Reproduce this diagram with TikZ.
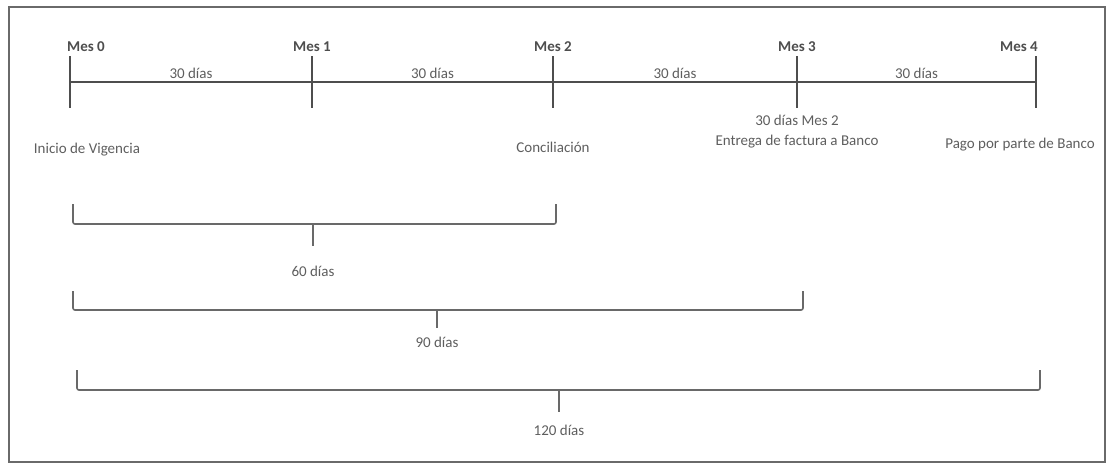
\documentclass[tikz,border=0pt]{standalone}
\usepackage{fontspec}
\setmainfont{Carlito}
\usetikzlibrary{positioning}
\definecolor{framegray}{HTML}{6A6A6A}
\definecolor{linegray}{HTML}{4E4E4E}
\definecolor{textgray}{HTML}{5E5E5E}

\begin{document}
\begin{tikzpicture}[x=1pt, y=-1pt,
    every node/.style={font=\fontsize{15}{18}\selectfont, text=textgray, inner sep=1pt},
    mes/.style={font=\fontsize{15}{18}\selectfont\bfseries, text=linegray},
    tline/.style={draw=linegray, line width=1.8pt},
    brace/.style={draw=linegray!85, line width=1.6pt, rounded corners=2pt}]
  \useasboundingbox (0,0) rectangle (1111,467);
  \draw[framegray, line width=1.6pt] (9,7) rectangle (1105,462);

  % months on the time line
  \foreach \i/\x in {0/70, 1/312, 2/553, 3/797, 4/1036} {
    \coordinate (m\i) at (\x,82);
    \draw[tline] (m\i) ++(0,-26) -- ++(0,52);
  }
  \foreach \i/\x/\a in {0/66/west, 1/312/center, 2/553/center, 3/797/center, 4/1039/east}
    \node[mes, anchor=\a] (mes\i) at (\x,47) {Mes \i};
  \draw[tline] (m0) -- node[above=1pt] {30 días} (m1)
                    -- node[above=1pt] {30 días} (m2)
                    -- node[above=1pt] {30 días} (m3)
                    -- node[above=1pt] {30 días} (m4);

  % events
  \node (inicio) at (87,150) {Inicio de Vigencia};
  \node (concil) at (553,147) {Conciliación};
  \node (dias32) at (797,120) {30 días Mes 2};
  \node[below=7pt of dias32] (entrega) {Entrega de factura a Banco};
  \node (pago) at (1020,145) {Pago por parte de Banco};

  % spans from the start
  \foreach \n/\l/\r/\t/\h/\m/\e/\y in {60/73/556/204/224/313/246/271,
                                       90/73/803/291/310/437/328/342,
                                       120/77/1040/370/390/559/412/430} {
    \coordinate (s\n l) at (\l,\t);
    \coordinate (s\n r) at (\r,\t);
    \coordinate (s\n m) at (\m,\h);
    \node (d\n) at (\m,\y) {\n{} días};
    \draw[brace] (s\n l) |- (s\n m) -| (s\n r);
    \draw[brace] (s\n m) -- (\m,\e);
  }
\end{tikzpicture}
\end{document}
